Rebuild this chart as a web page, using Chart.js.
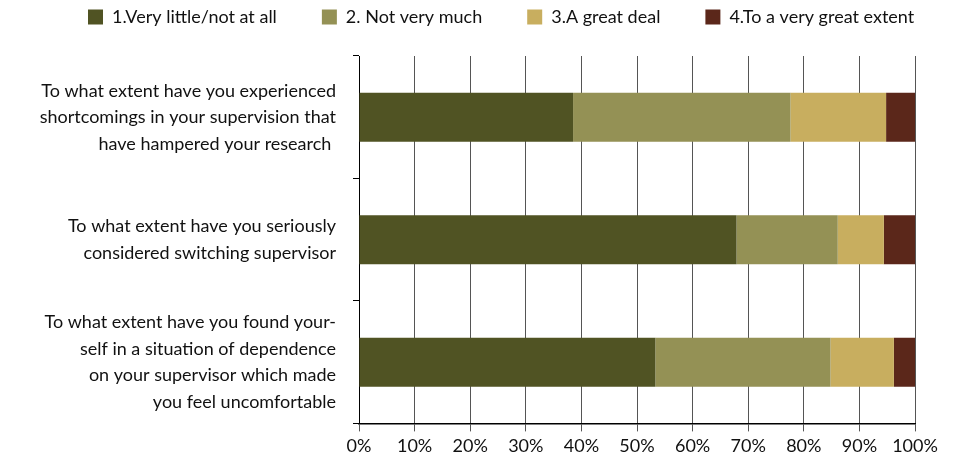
<!DOCTYPE html>
<html>
<head>
<meta charset="utf-8">
<script src="https://cdn.jsdelivr.net/npm/chart.js@4"></script>
<style>
  html, body { margin: 0; padding: 0; background: #fff; }
  #caja { width: 957px; height: 465px; position: relative; }
</style>
</head>
<body>
<div id="caja"><canvas id="grafico"></canvas></div>
<script>
// Preguntas (categorías)
const preguntas = [
    ['To what extent have you experienced', 'shortcomings in your supervision that', 'have hampered your research '],
    ['To what extent have you seriously', 'considered switching supervisor'],
    ['To what extent have you found your-', 'self in a situation of dependence', 'on your supervisor which made', 'you feel uncomfortable']
];

// Series (porcentajes)
const muyPoco = [38.5, 67.9, 53.3];
const noMucho = [39.1, 18.2, 31.5];
const bastante = [17.2, 8.3, 11.4];
const muchisimo = [5.2, 5.6, 3.8];

const nombresSeries = ['1.Very little/not at all', '2. Not very much', '3.A great deal', '4.To a very great extent'];
const ticksX = [0, 10, 20, 30, 40, 50, 60, 70, 80, 90, 100];

const colores = ['#505323', '#949155', '#c8ae5f', '#5b271a'];
const fuente = "'Lato', 'Open Sans', sans-serif";

const series = [muyPoco, noMucho, bastante, muchisimo];

// Ajuste de la leyenda: una sola fila, altura fija y posición propia
const ajusteLeyenda = {
    id: 'ajusteLeyenda',
    beforeInit(chart) {
        const fitOriginal = chart.legend.fit;
        chart.legend.fit = function () {
            const anchoReal = this.maxWidth;
            this.maxWidth = 2000;
            fitOriginal.call(this);
            this.maxWidth = anchoReal;
            this.width = anchoReal;
            this.height = 56;
        };
    },
    afterLayout(chart) {
        const ley = chart.legend;
        ley.top = -37;
        ley.left = 88 - ley.options.labels.padding;
        ley.right = 2000;
    }
};

new Chart(document.getElementById('grafico').getContext('2d'), {
    type: 'bar',
    data: {
        labels: preguntas,
        datasets: series.map((datos, i) => ({
            label: nombresSeries[i],
            data: datos,
            backgroundColor: colores[i],
            borderWidth: 0,
            categoryPercentage: 1,
            barPercentage: 0.4
        }))
    },
    options: {
        indexAxis: 'y',
        responsive: true,
        maintainAspectRatio: false,
        animation: false,
        layout: { padding: { left: 0, right: 42, top: 0, bottom: 4 } },
        plugins: {
            legend: {
                position: 'top',
                align: 'start',
                labels: {
                    color: '#111',
                    font: { family: fuente, size: 18 },
                    boxWidth: 15,
                    boxHeight: 15,
                    padding: 45
                }
            },
            tooltip: { enabled: false }
        },
        scales: {
            x: {
                stacked: true,
                min: 0,
                max: 100,
                afterBuildTicks: escala => { escala.ticks = ticksX.map(v => ({ value: v })); },
                ticks: {
                    color: '#111',
                    font: { family: fuente, size: 18 },
                    callback: v => v + '%',
                    padding: 4,
                    maxRotation: 0
                },
                grid: { color: '#555', lineWidth: 1, tickLength: 8 },
                border: { color: '#000', width: 1.5 }
            },
            y: {
                stacked: true,
                afterFit: escala => {
                    escala.width = 359;
                    escala.paddingTop = 0;
                    escala.paddingBottom = 0;
                },
                ticks: {
                    color: '#111',
                    font: { family: fuente, size: 18, lineHeight: 1.47 },
                    padding: 17
                },
                grid: { offset: true, drawOnChartArea: false, color: '#000', tickLength: 6 },
                border: { color: '#000', width: 1 }
            }
        }
    },
    plugins: [ajusteLeyenda]
});
</script>
</body>
</html>
